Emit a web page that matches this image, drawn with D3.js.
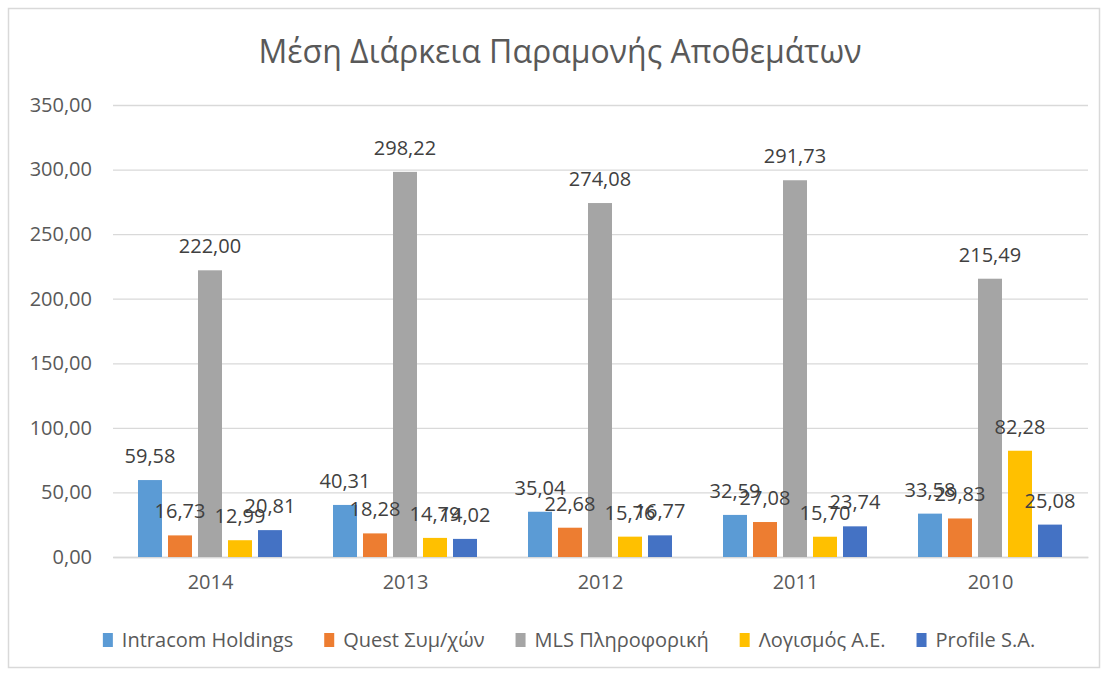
<!DOCTYPE html>
<html>
<head>
<meta charset="utf-8">
<script src="https://cdn.jsdelivr.net/npm/d3@7"></script>
<style>
  body { margin: 0; background: #fff; }
  text { font-family: "Open Sans", "Noto Sans", sans-serif; }
</style>
</head>
<body>
<div id="chart"></div>
<script>
// Chart data
var years = ["2014", "2013", "2012", "2011", "2010"];
var seriesNames = ["Intracom Holdings", "Quest Συμ/χών", "MLS Πληροφορική", "Λογισμός Α.Ε.", "Profile S.A."];
var intracom = [59.58, 40.31, 35.04, 32.59, 33.58];
var quest = [16.73, 18.28, 22.68, 27.08, 29.83];
var mls = [222.00, 298.22, 274.08, 291.73, 215.49];
var logismos = [12.99, 14.79, 15.76, 15.70, 82.28];
var profile = [20.81, 14.02, 16.77, 23.74, 25.08];
var yTicks = [0, 50, 100, 150, 200, 250, 300, 350];

var colors = ["#5B9BD5", "#ED7D31", "#A5A5A5", "#FFC000", "#4472C4"];
var allSeries = [intracom, quest, mls, logismos, profile];

// Sizing
var W = 1108, H = 675;
var plot = {left: 113, right: 1088, top: 105, bottom: 557};

var svg = d3.select("#chart")
    .append("svg")
    .attr("width", W)
    .attr("height", H);

// Outer border
svg.append("rect")
    .attr("x", 8.5).attr("y", 8.5)
    .attr("width", 1091).attr("height", 659)
    .attr("fill", "#fff")
    .attr("stroke", "#d9d9d9")
    .attr("stroke-width", 1.5);

// Title
svg.append("text")
    .attr("x", 560)
    .attr("y", 63)
    .attr("text-anchor", "middle")
    .style("font-size", "32px")
    .style("fill", "#595959")
    .text("Μέση Διάρκεια Παραμονής Αποθεμάτων");

// Scales
var x0 = d3.scaleBand()
    .domain(years)
    .range([plot.left, plot.right])
    .padding(0);

var x1 = d3.scaleBand()
    .domain(seriesNames)
    .range([25, 169])
    .paddingInner(0.2)
    .paddingOuter(0);

var y = d3.scaleLinear()
    .domain([0, 350])
    .range([plot.bottom, plot.top]);

var fmt = function(v) { return d3.format(".2f")(v).replace(".", ","); };

// Gridlines and Y labels
var yAxis = svg.append("g")
    .attr("transform", "translate(" + plot.left + ",0)")
    .call(d3.axisLeft(y).tickValues(yTicks).tickFormat(fmt)
        .tickSize(-(plot.right - plot.left)).tickPadding(21));
yAxis.select(".domain").remove();
yAxis.selectAll(".tick line").attr("stroke", "#d9d9d9").attr("stroke-width", 1.3);
yAxis.selectAll(".tick text")
    .style("font-size", "20px")
    .style("fill", "#595959")
    .style("font-family", "'Open Sans', sans-serif");

// X axis
var xAxis = svg.append("g")
    .attr("transform", "translate(0," + plot.bottom + ")")
    .call(d3.axisBottom(x0).tickSize(0).tickPadding(18));
xAxis.select(".domain").attr("stroke", "#d9d9d9").attr("stroke-width", 1.3);
xAxis.selectAll(".tick text")
    .style("font-size", "20px")
    .style("fill", "#595959")
    .style("font-family", "'Open Sans', sans-serif");

// Bars
var rows = [];
years.forEach(function(yr, i) {
    seriesNames.forEach(function(s, j) {
        rows.push({year: yr, series: s, value: allSeries[j][i], color: colors[j]});
    });
});

svg.append("g").selectAll("rect")
    .data(rows)
    .enter().append("rect")
    .attr("x", function(d) { return x0(d.year) + x1(d.series); })
    .attr("y", function(d) { return y(d.value); })
    .attr("width", x1.bandwidth())
    .attr("height", function(d) { return y(0) - y(d.value); })
    .attr("fill", function(d) { return d.color; });

// Value labels
svg.append("g").selectAll("text")
    .data(rows)
    .enter().append("text")
    .attr("x", function(d) { return x0(d.year) + x1(d.series) + x1.bandwidth() / 2; })
    .attr("y", function(d) { return y(d.value) - 17; })
    .attr("text-anchor", "middle")
    .style("font-size", "20px")
    .style("fill", "#404040")
    .text(function(d) { return fmt(d.value); });

// Legend
var legend = svg.append("g");
var lx = 0;
seriesNames.forEach(function(s, j) {
    var item = legend.append("g").attr("transform", "translate(" + lx + ",0)");
    item.append("rect")
        .attr("x", 0).attr("y", -7)
        .attr("width", 10).attr("height", 14)
        .attr("fill", colors[j]);
    var t = item.append("text")
        .attr("x", 19).attr("y", 7)
        .style("font-size", "20px")
        .style("fill", "#595959")
        .text(s);
    lx += 19 + t.node().getComputedTextLength() + 31;
});
var legendW = lx - 31;
legend.attr("transform", "translate(" + (569 - legendW / 2) + ",640)");
</script>
</body>
</html>
